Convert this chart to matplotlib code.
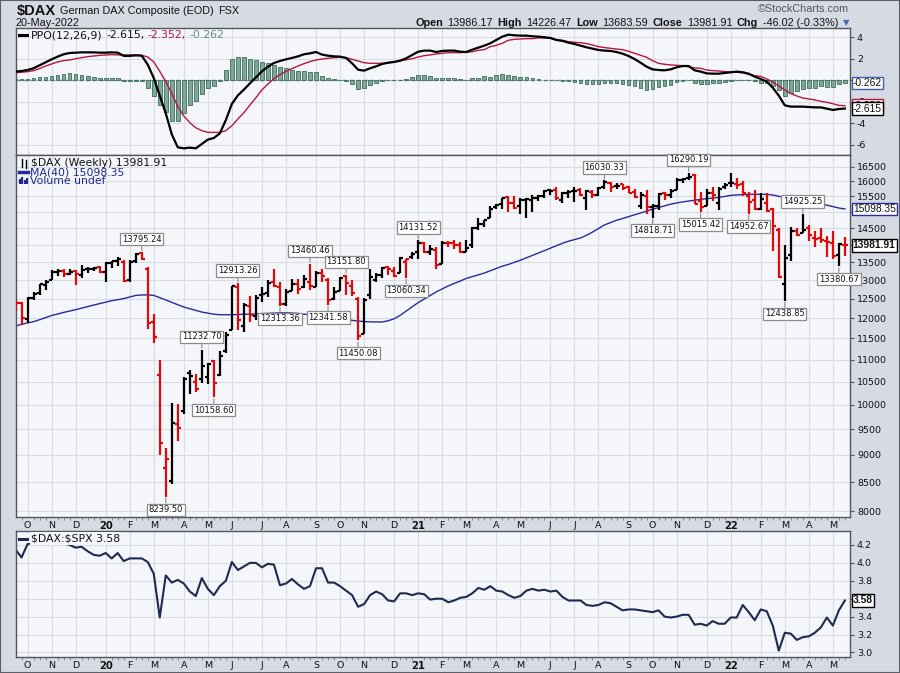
import matplotlib
matplotlib.use("Agg")
import matplotlib.pyplot as plt
import numpy as np
import pandas as pd
from matplotlib.lines import Line2D
from matplotlib.patches import Rectangle
from matplotlib.ticker import FixedLocator, NullLocator

plt.rcParams["text.parse_math"] = False

# weekly bars, Friday dates
dates = pd.date_range("2019-09-27", "2022-05-20", freq="W-FRI")

opens = [12468, 12390, 11990, 12520, 12640, 12880, 13000, 13230, 13240, 13180,
         13250, 13150, 13300, 13320, 13350, 13220, 13480, 13530, 13500, 13000,
         13520, 13750, 13300, 11900, 10650, 8760, 8530, 9600, 9880, 10700,
         10500, 10560, 10600, 10970, 10640, 11200, 11700, 12800, 11800, 12300,
         12050, 12600, 12650, 12950, 12800, 12350, 12700, 12900, 12800, 12950,
         12800, 13200, 13000, 12500, 12700, 13100, 12850, 12500, 11600, 12600,
         13000, 13150, 13350, 13250, 13200, 13500, 13650, 13800, 14050, 13800,
         13850, 13450, 14050, 14060, 13990, 13800, 14000, 14500, 14630, 14800,
         15150, 15250, 15480, 15300, 15200, 15400, 15400, 15460, 15500, 15700,
         15700, 15400, 15600, 15680, 15700, 15450, 15650, 15560, 15800, 15950,
         15850, 15900, 15800, 15650, 15200, 15500, 15150, 15200, 15600, 15550,
         15700, 16050, 16100, 16200, 15350, 15200, 15600, 15300, 15800, 15950,
         15900, 15900, 15500, 15400, 15100, 15300, 15100, 14450, 12900, 13700,
         14400, 14350, 14500, 14200, 14200, 14100, 14050, 13700, 13986.17]
highs = [12478, 12420, 12540, 12690, 12905, 13000, 13290, 13320, 13310, 13300,
         13270, 13425, 13350, 13375, 13400, 13500, 13530, 13640, 13550, 13550,
         13750, 13795.24, 13350, 12100, 11000, 9130, 10050, 10020, 10600, 10750,
         10665, 11232.70, 10920, 11000, 11200, 11650, 12850, 12913.26, 12400, 12570,
         12600, 12800, 13000, 13310, 12960, 12760, 13040, 13030, 13150, 13460.46,
         13260, 13300, 13050, 12800, 13080, 13151.80, 12990, 12550, 12520, 13300,
         13200, 13350, 13400, 13350, 13650, 13600, 13800, 14131.52, 14080, 14000,
         13950, 14100, 14100, 14150, 14070, 14150, 14550, 14800, 14750, 15200,
         15250, 15460, 15500, 15500, 15450, 15460, 15550, 15560, 15700, 15740,
         15800, 15650, 15700, 15810, 15790, 15700, 15700, 15810, 16030.33, 15990,
         15950, 15900, 15840, 15750, 15650, 15700, 15250, 15600, 15650, 15750,
         16100, 16120, 16290.19, 16250, 15650, 15750, 15800, 15800, 15950, 16285,
         16100, 16000, 15650, 15700, 15600, 15600, 15120, 14500, 14000, 14540,
         14500, 14925.25, 14600, 14400, 14500, 14250, 14400, 14050, 14226.47]
lows = [12175, 11840, 11880, 12460, 12590, 12730, 12990, 13120, 13080, 13130,
        12880, 13050, 13200, 13250, 13200, 12950, 13330, 13380, 12950, 12950,
        13480, 13560, 11725, 11400, 9000, 8239.50, 8470, 9260, 9800, 10230,
        10270, 10480, 10450, 10158.60, 10620, 11150, 11700, 11700, 11650, 11900,
        11950, 12420, 12550, 12800, 12313.36, 12320, 12700, 12620, 12780, 12720,
        12800, 12950, 12341.58, 12460, 12700, 12600, 12560, 11450.08, 11600, 12500,
        12950, 13050, 13150, 13080, 13200, 13060.34, 13600, 13600, 13750, 13690,
        13310, 13450, 13930, 13880, 13770, 13800, 13900, 14450, 14550, 14800,
        15100, 15100, 15000, 15100, 14950, 14820, 15000, 15350, 15450, 15550,
        15400, 15290, 15450, 15320, 15500, 15060, 15450, 15510, 15750, 15660,
        15750, 15720, 15600, 15450, 15100, 14950, 14818.71, 15050, 15400, 15450,
        15700, 15950, 16050, 15250, 15015.42, 15200, 15350, 15060, 15750, 15800,
        15750, 15500, 14952.67, 15050, 15050, 15000, 13807, 13060, 12438.85, 13530,
        14250, 14350, 14100, 13950, 14050, 13650, 13600, 13380.67, 13683.59]
closes = [12381, 12013, 12512, 12634, 12895, 12961, 13228, 13242, 13164, 13236,
          13166, 13283, 13319, 13337, 13219, 13483, 13526, 13577, 12982, 13514,
          13745, 13579, 11890, 11542, 9232, 8929, 9633, 9525, 10565, 10626,
          10336, 10861, 10904, 10465, 11074, 11587, 12848, 11949, 12331, 12089,
          12528, 12633, 12920, 12838, 12360, 12674, 12901, 12765, 13033, 12842,
          13202, 13116, 12469, 12689, 13051, 12909, 12646, 11556, 12480, 13077,
          13137, 13335, 13298, 13114, 13630, 13587, 13719, 14050, 13788, 13873,
          13433, 14057, 14050, 13993, 13786, 13921, 14502, 14621, 14749, 15107,
          15234, 15460, 15280, 15136, 15400, 15417, 15437, 15520, 15693, 15693,
          15448, 15607, 15650, 15688, 15540, 15669, 15544, 15761, 15977, 15808,
          15852, 15781, 15609, 15490, 15532, 15156, 15206, 15587, 15543, 15688,
          16054, 16094, 16160, 15257, 15170, 15623, 15532, 15756, 15885, 15948,
          15883, 15603, 15318, 15100, 15425, 15042, 14567, 13094, 13628, 14413,
          14306, 14446, 14284, 14163, 14142, 14098, 13674, 14027, 13981.91]

ma40 = [11802, 11845, 11881, 11913, 11961, 12014, 12067, 12107, 12145, 12180,
        12216, 12256, 12294, 12335, 12373, 12413, 12449, 12475, 12505, 12546,
        12587, 12600, 12602, 12589, 12530, 12469, 12405, 12344, 12284, 12241,
        12196, 12155, 12128, 12100, 12087, 12087, 12087, 12092, 12100, 12102,
        12110, 12117, 12122, 12128, 12135, 12135, 12128, 12122, 12097, 12097,
        12097, 12087, 12080, 12067, 12024, 11981, 11944, 11928, 11913, 11908,
        11906, 11903, 11936, 11984, 12072, 12180, 12291, 12400, 12492, 12584,
        12680, 12762, 12841, 12910, 12975, 13046, 13095, 13144, 13194, 13259,
        13325, 13387, 13434, 13493, 13555, 13623, 13694, 13763, 13831, 13904,
        13975, 14045, 14107, 14157, 14204, 14283, 14380, 14489, 14599, 14672,
        14742, 14797, 14856, 14913, 14969, 15029, 15089, 15143, 15200, 15250,
        15288, 15322, 15351, 15379, 15406, 15426, 15446, 15468, 15501, 15534,
        15550, 15560, 15569, 15569, 15569, 15569, 15547, 15504, 15449, 15423,
        15397, 15368, 15338, 15309, 15264, 15219, 15171, 15127, 15098.35]

ppo_line = [0.81, 0.87, 0.96, 1.12, 1.40, 1.67, 1.95, 2.20, 2.42, 2.54,
            2.57, 2.60, 2.60, 2.60, 2.57, 2.57, 2.60, 2.57, 2.27, 2.27,
            2.32, 2.29, 1.46, 0.22, -1.42, -3.06, -5.01, -6.22, -6.31, -6.25,
            -6.31, -5.90, -5.50, -5.35, -4.92, -3.68, -2.19, -1.39, -0.86, -0.28,
            0.28, 0.84, 1.27, 1.61, 1.80, 1.95, 2.08, 2.23, 2.42, 2.51,
            2.63, 2.39, 2.29, 2.23, 2.20, 2.08, 1.58, 0.99, 0.90, 1.12,
            1.30, 1.52, 1.64, 1.71, 1.83, 2.05, 2.36, 2.66, 2.76, 2.76,
            2.63, 2.73, 2.76, 2.76, 2.66, 2.63, 2.85, 3.04, 3.22, 3.44,
            3.75, 4.06, 4.24, 4.18, 4.15, 4.15, 4.09, 4.06, 4.00, 3.94,
            3.75, 3.66, 3.50, 3.38, 3.22, 3.07, 2.94, 2.82, 2.76, 2.73,
            2.63, 2.48, 2.26, 1.98, 1.64, 1.27, 1.02, 0.96, 0.93, 1.02,
            1.21, 1.33, 1.33, 0.93, 0.81, 0.65, 0.62, 0.62, 0.68, 0.75,
            0.81, 0.75, 0.62, 0.34, 0.13, -0.12, -0.68, -1.42, -2.32, -2.44,
            -2.44, -2.44, -2.47, -2.51, -2.51, -2.63, -2.75, -2.66, -2.615]
ppo_signal = [0.71, 0.75, 0.81, 0.90, 1.09, 1.33, 1.52, 1.71, 1.83, 1.89,
              2.01, 2.11, 2.20, 2.26, 2.32, 2.36, 2.39, 2.36, 2.36, 2.36,
              2.36, 2.32, 2.17, 1.71, 0.84, -0.12, -1.20, -2.44, -3.31, -3.93,
              -4.40, -4.67, -4.83, -4.83, -4.83, -4.67, -4.21, -3.59, -3.00, -2.29,
              -1.61, -0.89, -0.34, 0.16, 0.53, 0.84, 1.09, 1.33, 1.55, 1.74,
              1.89, 1.98, 2.05, 2.11, 2.14, 2.11, 1.95, 1.80, 1.64, 1.58,
              1.58, 1.58, 1.61, 1.71, 1.80, 1.92, 2.01, 2.17, 2.29, 2.36,
              2.45, 2.51, 2.57, 2.57, 2.57, 2.60, 2.66, 2.79, 2.85, 3.13,
              3.25, 3.44, 3.72, 3.81, 3.84, 3.87, 3.87, 3.94, 3.94, 3.90,
              3.75, 3.72, 3.59, 3.53, 3.50, 3.41, 3.28, 3.13, 3.04, 2.97,
              2.91, 2.85, 2.70, 2.51, 2.32, 2.14, 1.83, 1.58, 1.49, 1.43,
              1.39, 1.36, 1.27, 1.15, 1.12, 0.96, 0.90, 0.87, 0.81, 0.78,
              0.75, 0.71, 0.56, 0.44, 0.37, 0.13, -0.15, -0.52, -0.89, -1.23,
              -1.45, -1.64, -1.73, -1.82, -1.95, -2.04, -2.17, -2.32, -2.352]

dax_spx = [4.15, 4.06, 4.21, 4.22, 4.25, 4.23, 4.26, 4.24, 4.22, 4.20,
           4.17, 4.18, 4.13, 4.09, 4.08, 4.11, 4.05, 4.11, 4.02, 4.05,
           4.05, 4.05, 4.01, 3.88, 3.39, 3.86, 3.78, 3.81, 3.77, 3.68,
           3.63, 3.83, 3.71, 3.64, 3.74, 3.80, 4.01, 3.92, 3.96, 4.00,
           4.00, 3.95, 3.99, 3.98, 3.75, 3.77, 3.82, 3.76, 3.71, 3.74,
           3.94, 3.94, 3.78, 3.78, 3.74, 3.69, 3.64, 3.51, 3.54, 3.64,
           3.68, 3.65, 3.58, 3.57, 3.66, 3.66, 3.64, 3.66, 3.65, 3.59,
           3.60, 3.60, 3.56, 3.58, 3.61, 3.62, 3.66, 3.72, 3.70, 3.74,
           3.69, 3.68, 3.64, 3.61, 3.63, 3.69, 3.71, 3.69, 3.70, 3.68,
           3.69, 3.62, 3.58, 3.58, 3.58, 3.53, 3.52, 3.53, 3.56, 3.55,
           3.51, 3.47, 3.48, 3.48, 3.47, 3.46, 3.45, 3.47, 3.40, 3.39,
           3.40, 3.42, 3.42, 3.31, 3.32, 3.30, 3.35, 3.32, 3.32, 3.39,
           3.39, 3.53, 3.45, 3.36, 3.48, 3.46, 3.30, 3.02, 3.22, 3.21,
           3.14, 3.17, 3.18, 3.22, 3.28, 3.39, 3.30, 3.47, 3.58]

# labelled highs (H) and lows (L)
pivot_bars = [21, 25, 31, 33, 37, 44, 49, 52, 55, 57, 65, 67,
              98, 106, 112, 114, 122, 128, 131, 137]
pivot_kind = ["H", "L", "H", "L", "H", "L", "H", "L", "H", "L", "L", "H",
              "H", "L", "H", "L", "L", "L", "H", "L"]

W, H = 900, 673
FIG_BG = "#d6dbe3"
PANEL = "#f5f6fa"
GRID = "#d8dce4"
EDGE = "#50555f"
RED = "#e10a0a"
NAVY = "#2a2a9c"
PPO_RED = "#b5173f"
HIST = "#7ea898"
HIST_EDGE = "#3d6b5d"


def fx(x):
    return x / W


def fy(y):
    return 1 - y / H


fig = plt.figure(figsize=(9, 6.73), dpi=100, facecolor=FIG_BG)
fig.add_artist(Rectangle((0, 0), 1, 1, transform=fig.transFigure, fill=False,
                         ec="#5a5f6a", lw=1.5))

x0, x1 = 16, 850
ax_ppo = fig.add_axes([fx(x0), fy(155), fx(x1) - fx(x0), fy(28) - fy(155)])
ax_px = fig.add_axes([fx(x0), fy(517), fx(x1) - fx(x0), fy(155) - fy(517)])
ax_rt = fig.add_axes([fx(x0), fy(657), fx(x1) - fx(x0), fy(531) - fy(657)])

idx = np.arange(len(dates))

# month gridlines: first weekly bar whose week starts inside the month
tick_pos, tick_lab = [], []
seen = set()
for i, d in enumerate(dates):
    if d.day >= 5 and (d.year, d.month) not in seen:
        seen.add((d.year, d.month))
        tick_pos.append(i)
        tick_lab.append(str(d.year)[2:] if d.month == 1 else "JFMAMJJASOND"[d.month - 1])

for ax in (ax_ppo, ax_px, ax_rt):
    ax.set_facecolor(PANEL)
    for s in ax.spines.values():
        s.set_color(EDGE)
        s.set_linewidth(1)
    ax.set_xlim(0.08, 138.85)
    ax.xaxis.set_major_locator(FixedLocator(tick_pos))
    ax.xaxis.set_minor_locator(FixedLocator(idx))
    ax.yaxis.tick_right()
    ax.set_axisbelow(True)
    ax.grid(True, which="major", color=GRID, lw=0.8)
    ax.tick_params(axis="x", which="major", length=0, pad=3, labelsize=6.8,
                   labelcolor="#111")
    ax.tick_params(axis="x", which="minor", length=2.2, width=0.7, color="#888",
                   direction="out")
    ax.tick_params(axis="y", which="major", length=3, width=0.8, color=EDGE,
                   pad=2, labelsize=6.8, labelcolor="#111")
    ax.tick_params(axis="y", which="minor", length=0)

ax_ppo.set_xticklabels([])
ax_ppo.tick_params(axis="x", which="minor", length=0)
for ax in (ax_px, ax_rt):
    ax.set_xticklabels(tick_lab)
    for lab in ax.get_xticklabels():
        if lab.get_text().isdigit():
            lab.set_fontweight("bold")
            lab.set_fontsize(7.2)

# ---- PPO panel
hist = np.array(ppo_line) - np.array(ppo_signal)
ax_ppo.bar(idx, hist, width=0.62, color=HIST, edgecolor=HIST_EDGE, lw=0.6, zorder=2)
ax_ppo.axhline(0, color="#6d9a8c", lw=1, ls=(0, (3, 2)), zorder=1.5)
ax_ppo.plot(idx, ppo_signal, color=PPO_RED, lw=1.0, zorder=3)
ax_ppo.plot(idx, ppo_line, color="black", lw=1.6, zorder=4)
ax_ppo.set_ylim(-6.93, 4.86)
ax_ppo.set_yticks([-6, -4, -2, 0, 2, 4])
ax_ppo.set_yticklabels(["-6", "-4", "-2", "0", "2", "4"])

# ---- price panel
ax_px.set_yscale("log")
ax_px.set_ylim(7900, 16911)
levels = list(range(8000, 17000, 500))
ax_px.yaxis.set_major_locator(FixedLocator(levels))
ax_px.yaxis.set_minor_locator(NullLocator())
ax_px.set_yticklabels([str(v) for v in levels])

colors = []
for i in idx:
    prev = closes[i - 1] if i > 0 else opens[0]
    colors.append(RED if closes[i] < prev else "black")
ax_px.plot(idx, ma40, color=NAVY, lw=1.0, zorder=2)
ax_px.vlines(idx, lows, highs, colors=colors, lw=1.6, zorder=3)
ax_px.hlines(opens, idx - 0.5, idx, colors=colors, lw=1.6, zorder=3)
ax_px.hlines(closes, idx, idx + 0.5, colors=colors, lw=1.6, zorder=3)

for i, kind in zip(pivot_bars, pivot_kind):
    v = highs[i] if kind == "H" else lows[i]
    off = 6 if kind == "H" else -6
    ax_px.annotate(f"{v:.2f}", xy=(i, v), xytext=(0, off), textcoords="offset points",
                   ha="center", va="bottom" if kind == "H" else "top",
                   fontsize=6.0, family="DejaVu Sans", color="#111",
                   bbox=dict(boxstyle="square,pad=0.2", fc="white", ec="#8c8c8c", lw=0.9),
                   arrowprops=dict(arrowstyle="-", color="#8c8c8c", lw=0.8,
                                   shrinkA=0, shrinkB=1),
                   zorder=6)

# ---- ratio panel
ax_rt.plot(idx, dax_spx, color="#1d2b4f", lw=1.5)
ax_rt.set_ylim(2.949, 4.356)
rt_ticks = [3.0, 3.2, 3.4, 3.6, 3.8, 4.0, 4.2]
ax_rt.set_yticks(rt_ticks)
ax_rt.set_yticklabels([f"{v:.1f}" for v in rt_ticks])


# ---- value boxes on the right axis
def value_box(ax, v, text, ec, bold=False):
    ax.annotate(text, xy=(1, v), xycoords=("axes fraction", "data"),
                xytext=(2, 0), textcoords="offset points", ha="left", va="center",
                fontsize=7.4, family="Liberation Sans",
                fontweight="bold" if bold else "normal", color="#111",
                bbox=dict(boxstyle="square,pad=0.12", fc="white", ec=ec, lw=1),
                annotation_clip=False, zorder=10)


value_box(ax_ppo, ppo_signal[-1], f"{ppo_signal[-1]:.3f}", PPO_RED)
value_box(ax_ppo, ppo_line[-1], f"{ppo_line[-1]:.3f}", "black")
value_box(ax_ppo, hist[-1] + 0.003, "-0.262", "#4060a8")
value_box(ax_px, ma40[-1], f"{ma40[-1]:.2f}", NAVY)
value_box(ax_px, closes[-1], f"{closes[-1]:.2f}", "black", bold=True)
value_box(ax_rt, dax_spx[-1], f"{dax_spx[-1]:.2f}", "black", bold=True)

# ---- texts drawn as runs of pieces
rend = fig.canvas.get_renderer()


def runs(x, y, parts, align="left", gap=4.0):
    items = []
    for s, kw in parts:
        t = fig.text(0, fy(y), s, ha="left", va="center", **kw)
        items.append((t, t.get_window_extent(rend).width))
    total = sum(w for _, w in items) + gap * (len(items) - 1)
    cur = x - total if align == "right" else x
    for t, w in items:
        t.set_x(fx(cur))
        cur += w + gap


HF = dict(family="Liberation Sans", fontsize=7.8, color="#111")
HB = dict(HF, fontweight="bold")
runs(17, 10.5, [("$DAX", dict(HB, fontsize=10.5)), ("German DAX Composite (EOD)", HF),
                ("FSX", HF)], gap=4)
fig.text(fx(16), fy(22.5), "20-May-2022", ha="left", va="center", **HF)
runs(838, 22.5, [("Open", HB), ("13986.17", HF), ("High", HB), ("14226.47", HF),
                 ("Low", HB), ("13683.59", HF), ("Close", HB), ("13981.91", HF),
                 ("Chg", HB), ("-46.02 (-0.33%)", HF)], align="right", gap=4.5)
fig.text(fx(846), fy(23), "\u25bc", ha="center", va="center", fontsize=6,
         color="#4a68b0", family="DejaVu Sans")
fig.text(fx(849), fy(9), "\u00a9StockCharts.com", ha="right", va="center",
         family="Liberation Sans", fontsize=7.8, color="#555")

LF = dict(family="DejaVu Sans", fontsize=7.8)
# PPO legend
fig.add_artist(Line2D([fx(19), fx(27)], [fy(35), fy(35)], color="black", lw=2.2))
runs(31, 35, [("PPO(12,26,9)", dict(LF, color="#111")),
              ("-2.615,", dict(LF, color="#111")),
              ("-2.352,", dict(LF, color=PPO_RED)),
              ("-0.262", dict(LF, color="#5b8f80"))], gap=3.5)

# price legend
for xx, ya, yb in [(21.5, 159, 167), (25.5, 160, 168)]:
    fig.add_artist(Line2D([fx(xx), fx(xx)], [fy(ya), fy(yb)], color="black", lw=1))
fig.text(fx(31), fy(163), "$DAX (Weekly) 13981.91", ha="left", va="center",
         color="#111", **LF)
fig.add_artist(Line2D([fx(19), fx(28)], [fy(172), fy(172)], color=NAVY, lw=2.5))
fig.text(fx(29.5), fy(172.5), "MA(40) 15098.35", ha="left", va="center",
         color="#1f2a8c", **LF)
for xx, hh in [(19.5, 5), (22, 7), (24.5, 4), (27, 6)]:
    fig.add_artist(Line2D([fx(xx), fx(xx)], [fy(184), fy(184 - hh)], color="#1f2a8c",
                          lw=1.6, solid_capstyle="butt"))
fig.text(fx(29.5), fy(181.5), "Volume undef", ha="left", va="center",
         color="#1f2a8c", **LF)

# ratio legend
fig.text(fx(31), fy(538.5), "$DAX:$SPX 3.58", ha="left", va="center", color="#111",
         bbox=dict(boxstyle="square,pad=0.1", fc=PANEL, ec="none"), **LF)
fig.add_artist(Rectangle((fx(18), fy(543)), fx(13), fy(534) - fy(543),
                         transform=fig.transFigure, fc=PANEL, ec="none", zorder=2.5))
fig.add_artist(Line2D([fx(19), fx(27)], [fy(538.5), fy(538.5)], color="#1d2b4f",
                      lw=2.2, zorder=3))

fig.savefig("out.png", dpi=100, facecolor=FIG_BG)
